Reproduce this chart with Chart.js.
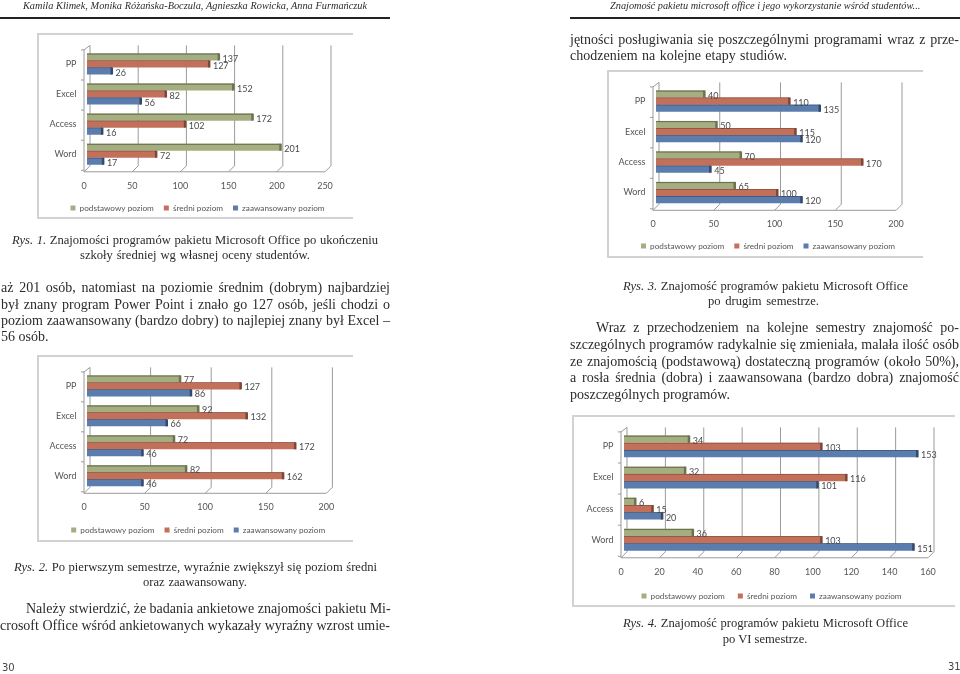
<!DOCTYPE html>
<html lang="pl">
<head>
<meta charset="utf-8">
<title>Znajomość pakietu Microsoft Office</title>
<script src="https://cdn.jsdelivr.net/npm/chart.js@4"></script>
<style>
  html, body { margin: 0; padding: 0; background: #fff; }
  #page { position: relative; width: 960px; height: 674px; overflow: hidden; background: #fff; }
  .ln { position: absolute; line-height: 16px; height: 16px; white-space: nowrap; color: #2b2b2b;
        font-family: "Liberation Serif", serif; font-size: 14px; filter: blur(0.25px); }
  .ln.just { text-align: justify; text-align-last: justify; }
  .ln.mid { text-align: center; }
  .ln.cap { font-size: 12.6px; }
  .ln.head { font-style: italic; font-size: 10.3px; }
  .ln.num { font-family: "DejaVu Sans", sans-serif; font-size: 10px; color: #444; }
  .rule { position: absolute; height: 1.5px; background: #222; top: 17px; }
  .frame { position: absolute; box-sizing: border-box; border: 2px solid #d2d2d2; border-right: 0; }
  .frame canvas { position: absolute; left: -2px; top: -2px; filter: blur(0.5px); }
</style>
</head>
<body>
<div id="page">
  <div class="rule" style="left:0;width:390px"></div>
  <div class="rule" style="left:570px;width:390px"></div>
</div>
<script>
const categories = ['PP', 'Excel', 'Access', 'Word'];
const seriesNames = ['podstawowy poziom', 'średni poziom', 'zaawansowany poziom'];

const rys1Basic = [137, 152, 172, 201];
const rys1Mid = [127, 82, 102, 72];
const rys1Adv = [26, 56, 16, 17];
const rys1Ticks = [0, 50, 100, 150, 200, 250];

const rys2Basic = [77, 92, 72, 82];
const rys2Mid = [127, 132, 172, 162];
const rys2Adv = [86, 66, 46, 46];
const rys2Ticks = [0, 50, 100, 150, 200];

const rys3Basic = [40, 50, 70, 65];
const rys3Mid = [110, 115, 170, 100];
const rys3Adv = [135, 120, 45, 120];
const rys3Ticks = [0, 50, 100, 150, 200];

const rys4Basic = [34, 32, 6, 36];
const rys4Mid = [103, 116, 15, 103];
const rys4Adv = [153, 101, 20, 151];
const rys4Ticks = [0, 20, 40, 60, 80, 100, 120, 140, 160];

const barColors = ['#a4ae80', '#c2705a', '#5a7dae'];
const edgeColors = ['#6d7350', '#7d4636', '#33486a'];

// page text: text, left, width, centre y, class
const textLines = [
  ['Kamila Klimek, Monika Różańska-Boczula, Agnieszka Rowicka, Anna Furmańczuk', 23, 344, 6, 'head just'],
  ['Znajomość pakietu microsoft office i jego wykorzystanie wśród studentów...', 610, 308, 6, 'head just'],
  ['jętności posługiwania się poszczególnymi programami wraz z prze-', 570, 389, 40, 'just'],
  ['chodzeniem na kolejne etapy studiów.', 570, 217, 56, 'just'],
  ['<i>Rys. 1.</i> Znajomości programów pakietu Microsoft Office po ukończeniu', 12, 366, 240, 'cap just'],
  ['szkoły średniej wg własnej oceny studentów.', 80, 230, 255, 'cap just'],
  ['aż 201 osób, natomiast na poziomie średnim (dobrym) najbardziej', 1, 389, 288, 'just'],
  ['był znany program Power Point i znało go 127 osób, jeśli chodzi o', 1, 389, 305, 'just'],
  ['poziom zaawansowany (bardzo dobry) to najlepiej znany był Excel –', 1, 389, 321, 'just'],
  ['56 osób.', 1, 47, 337, 'just'],
  ['<i>Rys. 2.</i> Po pierwszym semestrze, wyraźnie zwiększył się poziom średni', 14, 363, 567, 'cap just'],
  ['oraz zaawansowany.', 143, 104, 582, 'cap just'],
  ['Należy stwierdzić, że badania ankietowe znajomości pakietu Mi-', 26, 362, 609, 'just'],
  ['crosoft Office wśród ankietowanych wykazały wyraźny wzrost umie-', 0, 390, 626, 'just'],
  ['<i>Rys. 3.</i> Znajomość programów pakietu Microsoft Office', 623, 285, 286, 'cap just'],
  ['po drugim semestrze.', 708, 111, 301, 'cap just'],
  ['Wraz z przechodzeniem na kolejne semestry znajomość po-', 596, 363, 328, 'just'],
  ['szczególnych programów radykalnie się zmieniała, malała ilość osób', 570, 389, 345, 'just'],
  ['ze znajomością (podstawową) dostateczną programów (około 50%),', 570, 389, 362, 'just'],
  ['a rosła średnia (dobra) i zaawansowana (bardzo dobra) znajomość', 570, 389, 378, 'just'],
  ['poszczególnych programów.', 570, 160, 395, 'just'],
  ['<i>Rys. 4.</i> Znajomość programów pakietu Microsoft Office', 623, 285, 623, 'cap just'],
  ['po VI semestrze.', 722, 86, 639, 'cap mid'],
  ['30', 2, 12, 668, 'num'],
  ['31', 948, 12, 667, 'num']
];

const page = document.getElementById('page');
textLines.forEach(([text, left, width, y, cls]) => {
  const d = document.createElement('div');
  d.className = 'ln ' + cls;
  d.style.left = left + 'px';
  d.style.width = width + 'px';
  d.style.top = (y - 8) + 'px';
  d.innerHTML = text;
  page.appendChild(d);
});

// walls and floor of the fake 3D plot, taken from the x scale
const wallPlugin = {
  id: 'walls',
  beforeDatasetsDraw(chart) {
    const { ctx, chartArea: area, scales: { x } } = chart;
    const dx = 3, up = 3.5, down = 2.5;
    ctx.save();
    ctx.strokeStyle = '#9a9a9a';
    ctx.lineWidth = 1;
    x.ticks.forEach(t => {
      const p = x.getPixelForValue(t.value);
      ctx.beginPath();
      ctx.moveTo(p + dx, area.top - up);
      ctx.lineTo(p + dx, area.bottom - up);
      ctx.lineTo(p - dx, area.bottom + down);
      ctx.stroke();
    });
    const p0 = x.getPixelForValue(x.min);
    ctx.beginPath();
    ctx.moveTo(p0 + dx, area.top - up);
    ctx.lineTo(p0 - dx, area.top + 1);
    ctx.lineTo(p0 - dx, area.bottom + down);
    ctx.lineTo(x.right - dx, area.bottom + down);
    ctx.stroke();
    for (let i = 0; i <= categories.length; i++) {
      const py = area.top + i * (area.bottom - area.top) / categories.length + 1;
      ctx.beginPath();
      ctx.moveTo(p0 - dx, py);
      ctx.lineTo(p0 - dx - 3, py);
      ctx.stroke();
    }
    ctx.restore();
  }
};

// dark top and end faces of the bars and the value next to each bar
const barFacePlugin = {
  id: 'barFaces',
  afterDatasetsDraw(chart) {
    const { ctx } = chart;
    ctx.save();
    ctx.font = '9px Lato';
    ctx.textBaseline = 'middle';
    chart.data.datasets.forEach((ds, di) => {
      chart.getDatasetMeta(di).data.forEach(el => {
        const h = el.height, top = el.y - h / 2;
        ctx.fillStyle = edgeColors[di];
        ctx.fillRect(el.base, top, el.x - el.base, di === 0 ? 1.2 : 0.6);
        ctx.fillRect(el.x - 1.5, top, 2.5, h);
      });
    });
    chart.data.datasets.forEach((ds, di) => {
      chart.getDatasetMeta(di).data.forEach((el, i) => {
        ctx.fillStyle = '#4a4a4a';
        ctx.fillText(String(ds.data[i]), el.x + 3.5, el.y + 1.7);
      });
    });
    ctx.restore();
  }
};

function drawChart(box, plot, legend, axisMax, axisTicks, basic, mid, adv) {
  const frame = document.createElement('div');
  frame.className = 'frame';
  frame.style.cssText = `left:${box.left}px;top:${box.top}px;width:${box.width}px;height:${box.height}px`;
  const canvas = document.createElement('canvas');
  canvas.width = box.width;
  canvas.height = legend.y + 15 - box.top; // legend box may hang over the frame
  frame.appendChild(canvas);
  page.appendChild(frame);

  const legendShift = {
    id: 'legendShift',
    beforeDraw(chart) {
      chart.legend.left += legend.shift;
      chart.legend.right += legend.shift;
    }
  };

  new Chart(canvas, {
    type: 'bar',
    data: {
      labels: categories,
      datasets: [basic, mid, adv].map((vals, i) => ({
        label: seriesNames[i],
        data: vals,
        backgroundColor: barColors[i],
        categoryPercentage: 0.7,
        barPercentage: 1
      }))
    },
    options: {
      indexAxis: 'y',
      responsive: false,
      animation: false,
      layout: {
        padding: {
          left: 0,
          top: plot.top - box.top,
          right: box.left + box.width - plot.right,
          bottom: 0
        }
      },
      scales: {
        x: {
          min: 0,
          max: axisMax,
          afterBuildTicks(scale) { scale.ticks = axisTicks.map(v => ({ value: v })); },
          afterFit(scale) { scale.height = legend.y - legend.pad - 5 - plot.bottom; },
          grid: { display: false, drawTicks: false },
          border: { display: false },
          ticks: { color: '#555', font: { family: 'Lato', size: 9 }, labelOffset: -3, padding: 11, maxRotation: 0 }
        },
        y: {
          afterFit(scale) { scale.width = plot.left - box.left; },
          grid: { display: false, drawTicks: false },
          border: { display: false },
          ticks: { color: '#555', font: { family: 'Lato', size: 9 }, padding: 10.5 }
        }
      },
      plugins: {
        tooltip: { enabled: false },
        legend: {
          position: 'bottom',
          labels: { boxWidth: 5, boxHeight: 5, color: '#555', padding: legend.pad, font: { family: 'Lato', size: 8.2 } }
        }
      }
    },
    plugins: [wallPlugin, barFacePlugin, legendShift]
  });
}

drawChart({ left: 37, top: 33, width: 316, height: 186 }, { left: 87, right: 328, top: 47.5, bottom: 167.5 }, { y: 207, pad: 10, shift: 15 }, 250, rys1Ticks, rys1Basic, rys1Mid, rys1Adv);
drawChart({ left: 607, top: 70, width: 316, height: 188 }, { left: 656, right: 899, top: 84.5, bottom: 206 }, { y: 245, pad: 10, shift: 15 }, 200, rys3Ticks, rys3Basic, rys3Mid, rys3Adv);
drawChart({ left: 37, top: 355, width: 316, height: 187 }, { left: 87, right: 329.4, top: 368.5, bottom: 489 }, { y: 529, pad: 10, shift: 15 }, 200, rys2Ticks, rys2Basic, rys2Mid, rys2Adv);
drawChart({ left: 572, top: 415, width: 383, height: 192 }, { left: 624, right: 931, top: 429.5, bottom: 553.5 }, { y: 595, pad: 13, shift: 20 }, 160, rys4Ticks, rys4Basic, rys4Mid, rys4Adv);
</script>
</body>
</html>
